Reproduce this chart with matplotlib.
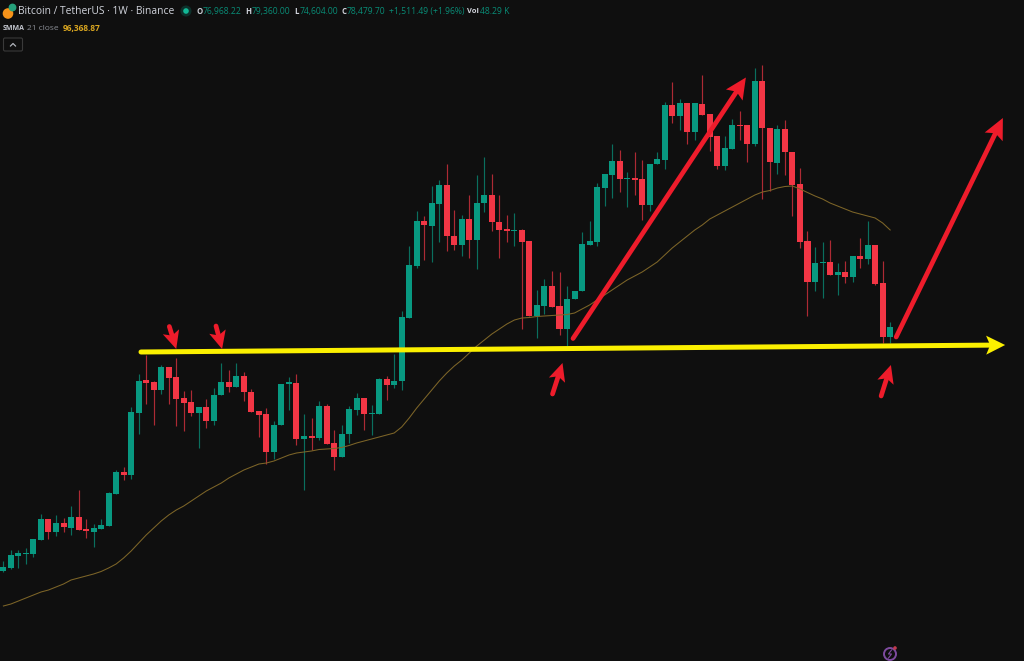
import numpy as np
import matplotlib
matplotlib.use("Agg")
import matplotlib.pyplot as plt
from matplotlib.patches import Circle, FancyBboxPatch, Polygon

# BTC/USDT weekly candles, prices in thousand USDT
opens = [30.1, 30.7, 33.0, 33.5, 33.4, 36.2, 40.5, 37.8, 39.7, 38.7,
         40.8, 38.4, 37.9, 38.5, 39.1, 45.4, 49.7, 49.2, 61.6, 68.1,
         67.7, 66.1, 70.7, 68.7, 64.5, 63.7, 61.6, 62.7, 59.9, 65.1,
         67.7, 66.7, 69.0, 65.7, 61.9, 61.3, 53.7, 59.1, 67.4, 67.5,
         56.3, 56.9, 56.5, 63.0, 55.5, 52.7, 57.3, 62.1, 64.5, 61.3,
         61.3, 68.3, 67.1, 67.9, 80.5, 91.0, 99.9, 99.0, 103.4, 107.1,
         96.9, 95.2, 100.4, 96.1, 103.5, 105.1, 99.7, 98.3, 97.9, 98.2,
         95.9, 80.9, 83.0, 87.0, 83.0, 78.4, 84.3, 85.9, 95.2, 95.8,
         106.5, 109.2, 112.0, 108.3, 108.5, 108.3, 103.1, 111.3, 112.2, 123.1,
         121.0, 123.5, 117.7, 123.4, 121.4, 117.0, 111.0, 114.3, 119.1, 119.1,
         115.4, 127.9, 118.6, 111.5, 118.3, 113.8, 107.4, 95.9, 87.7, 91.5,
         91.7, 89.1, 89.7, 88.8, 93.0, 92.3, 95.1, 87.6, 76.7]
highs = [32.1, 34.2, 34.2, 34.7, 36.4, 41.5, 40.5, 41.2, 40.7, 43.0,
         46.3, 40.4, 39.5, 40.5, 45.9, 50.3, 50.7, 62.7, 69.3, 73.2,
         67.9, 71.1, 70.7, 72.5, 65.9, 66.2, 62.7, 64.4, 66.5, 71.5,
         70.2, 71.5, 69.7, 66.3, 61.9, 62.5, 59.9, 67.3, 68.7, 69.4,
         61.4, 60.5, 63.9, 63.3, 58.1, 59.1, 63.0, 65.5, 64.5, 63.2,
         68.5, 68.9, 73.4, 81.9, 94.9, 101.9, 101.0, 106.9, 108.2, 111.4,
         102.1, 101.1, 105.2, 109.2, 112.7, 109.4, 105.2, 101.1, 101.5, 98.3,
         95.9, 86.2, 88.4, 89.9, 89.7, 87.0, 86.0, 97.7, 99.9, 107.5,
         109.4, 115.4, 114.1, 109.7, 113.7, 112.1, 111.4, 113.7, 123.7, 127.7,
         124.3, 123.5, 123.5, 129.1, 121.4, 117.0, 116.9, 120.3, 121.9, 119.1,
         130.5, 131.1, 118.6, 119.2, 120.2, 113.8, 110.5, 97.9, 94.7, 95.7,
         96.2, 91.5, 91.9, 93.0, 96.5, 100.0, 95.1, 92.0, 79.7]
lows = [29.9, 30.4, 30.7, 31.5, 32.9, 36.2, 36.5, 37.0, 37.9, 37.2,
        38.2, 36.7, 34.9, 38.5, 39.0, 45.4, 48.1, 48.4, 57.4, 63.3,
        59.1, 65.3, 63.3, 59.0, 57.9, 61.0, 54.5, 58.6, 59.2, 65.1,
        65.7, 66.7, 63.9, 61.7, 56.7, 51.4, 52.3, 59.1, 62.1, 55.1,
        46.2, 54.1, 56.1, 55.3, 50.1, 52.7, 55.5, 61.1, 58.1, 57.2,
        61.3, 64.1, 66.5, 66.2, 80.5, 90.5, 92.1, 91.7, 95.7, 93.9,
        94.1, 92.9, 92.5, 90.3, 101.7, 98.0, 92.5, 95.7, 95.0, 78.4,
        80.9, 76.5, 81.4, 82.8, 77.2, 75.0, 84.3, 85.9, 95.2, 95.0,
        103.0, 104.5, 105.7, 102.7, 105.2, 100.2, 101.9, 111.3, 110.4, 119.5,
        118.2, 115.4, 116.1, 121.2, 113.9, 110.3, 110.2, 114.3, 116.2, 111.7,
        115.0, 104.3, 105.9, 109.4, 109.2, 101.0, 94.5, 80.9, 85.9, 84.5,
        89.1, 85.2, 87.5, 87.7, 90.5, 91.4, 87.1, 75.5, 75.5]
closes = [30.9, 33.2, 33.6, 33.7, 36.4, 40.5, 37.9, 39.7, 38.8, 40.9,
          38.2, 38.0, 38.7, 39.3, 45.7, 49.8, 49.1, 61.7, 68.1, 67.5,
          66.1, 70.7, 68.5, 64.3, 63.6, 61.5, 62.7, 59.9, 65.2, 67.7,
          66.7, 69.0, 65.7, 61.7, 61.2, 53.7, 59.1, 67.3, 67.7, 56.3,
          56.9, 56.5, 63.0, 55.3, 52.7, 57.4, 62.3, 64.5, 61.3, 61.5,
          68.3, 67.1, 68.0, 80.7, 91.1, 99.9, 99.1, 103.5, 107.1, 96.9,
          95.2, 100.4, 96.1, 103.5, 105.1, 99.7, 98.2, 97.9, 98.2, 95.8,
          80.9, 83.1, 87.0, 82.8, 78.4, 84.4, 86.0, 95.4, 95.9, 106.7,
          109.4, 112.0, 108.3, 108.5, 108.2, 103.1, 111.4, 112.3, 123.2, 121.0,
          123.5, 117.7, 123.5, 121.2, 116.7, 111.0, 114.5, 119.1, 118.9, 115.4,
          127.9, 118.5, 111.7, 118.3, 113.7, 107.2, 95.8, 87.7, 91.5, 91.7,
          89.1, 89.8, 88.8, 93.0, 92.3, 95.2, 87.4, 76.7, 78.7]
smma = [23.0, 23.4, 24.0, 24.6, 25.2, 25.8, 26.2, 26.8, 27.4, 28.2,
        28.6, 29.0, 29.4, 29.9, 30.6, 31.4, 32.6, 34.0, 35.6, 37.2,
        38.6, 40.0, 41.2, 42.2, 43.0, 44.0, 45.0, 46.0, 46.8, 47.6,
        48.6, 49.4, 50.2, 50.8, 51.4, 51.6, 52.0, 52.6, 53.2, 53.6,
        53.8, 54.0, 54.3, 54.4, 54.5, 54.7, 55.1, 55.6, 56.0, 56.4,
        56.8, 57.2, 57.6, 58.8, 60.6, 62.6, 64.4, 66.2, 68.0, 69.6,
        71.0, 72.2, 73.6, 75.0, 76.2, 77.4, 78.4, 79.4, 80.2, 80.6,
        80.7, 80.9, 81.0, 81.1, 81.2, 81.3, 81.6, 82.4, 83.2, 84.2,
        85.2, 86.2, 87.2, 88.2, 89.0, 89.8, 90.8, 91.8, 93.2, 94.6,
        95.8, 97.0, 98.2, 99.2, 100.4, 101.2, 102.0, 102.8, 103.6, 104.4,
        105.2, 105.8, 106.1, 106.6, 106.9, 107.0, 106.4, 105.7, 105.0, 104.4,
        103.6, 103.0, 102.4, 101.8, 101.4, 101.0, 100.6, 99.6, 98.2]
assert len(opens) == len(highs) == len(lows) == len(closes) == len(smma) == 119

# hand drawn marks on the chart: (bar, price) -> (bar, price)
support_line = ((18.31, 73.8), (133.3, 75.2))
big_arrows = [((75.8, 76.5), (98.8, 128.7)),
              ((118.8, 76.8), (133.0, 120.6))]
small_arrows = [((22.08, 78.9), (23.0, 74.4)),
                ((28.29, 79.0), (29.1, 74.4)),
                ((73.07, 65.4), (74.4, 71.6)),
                ((116.8, 65.0), (118.1, 71.2))]

BG = '#0f0f0f'
GREEN = '#089981'
RED = '#f23645'
ARROW_RED = '#ee1c2b'
YELLOW = '#fbf000'
SMMA_COL = '#7d6528'

fig = plt.figure(figsize=(10.24, 6.61), dpi=100, facecolor=BG)
ax = fig.add_axes([0, 0, 1, 1], facecolor=BG)
ax.set_xlim(-0.452, 135.81)
ax.set_ylim(12.0, 144.2)
ax.axis('off')

idx = np.arange(len(opens))
o = np.array(opens)
c = np.array(closes)
cols = [GREEN if cl >= op else RED for op, cl in zip(opens, closes)]

ax.vlines(idx, lows, highs, colors=cols, linewidth=0.85, alpha=0.7, zorder=2)
ax.bar(idx, np.abs(c - o), bottom=np.minimum(o, c), width=0.8, color=cols,
       linewidth=0, zorder=3)
ax.plot(idx, smma, color=SMMA_COL, linewidth=0.75, zorder=4)

# legend row, icons and drawn arrows live in screen pixels
ui = fig.add_axes([0, 0, 1, 1], facecolor='none')
ui.set_xlim(0, 1024)
ui.set_ylim(661, 0)
ui.axis('off')


def to_px(pt):
    return ui.transData.inverted().transform(ax.transData.transform(pt))


def draw_arrow(start, end, color, lw, head_len, head_w, notch):
    p0, p1 = to_px(start), to_px(end)
    d = (p1 - p0) / np.hypot(*(p1 - p0))
    n = np.array([-d[1], d[0]])
    back = p1 - d * head_len
    ui.plot([p0[0], back[0] + d[0] * notch], [p0[1], back[1] + d[1] * notch],
            color=color, linewidth=lw, solid_capstyle='round', zorder=5)
    ui.add_patch(Polygon([p1, back + n * head_w / 2, back + d * notch, back - n * head_w / 2],
                         closed=True, facecolor=color, edgecolor='none', zorder=6))


draw_arrow(support_line[0], support_line[1], YELLOW, 3.6, 19, 19, 4)
for s, e in big_arrows:
    draw_arrow(s, e, ARROW_RED, 3.4, 21, 20, 4)
for s, e in small_arrows:
    draw_arrow(s, e, ARROW_RED, 3.4, 18, 17, 4)

FONT = 'Open Sans'


def label(x, y, s, color, size=6.2, weight='normal', alpha=1.0):
    ui.text(x, y, s, color=color, fontsize=size, fontweight=weight, alpha=alpha,
            family=FONT, va='center', ha='left')


label(18, 11.5, 'Bitcoin / TetherUS · 1W · Binance', '#d1d4dc', size=7.4)
label(196.5, 11.5, 'O', '#d1d4dc', size=5.6, weight='bold')
label(203, 11.5, '76,968.22', GREEN, alpha=0.9)
label(245, 11.5, 'H', '#d1d4dc', size=5.6, weight='bold')
label(252, 11.5, '79,360.00', GREEN, alpha=0.9)
label(294, 11.5, 'L', '#d1d4dc', size=5.6, weight='bold')
label(300, 11.5, '74,604.00', GREEN, alpha=0.9)
label(341, 11.5, 'C', '#d1d4dc', size=5.6, weight='bold')
label(347, 11.5, '78,479.70', GREEN, alpha=0.9)
label(389, 11.5, '+1,511.49 (+1.96%)', GREEN, alpha=0.9)
label(467, 11.5, 'Vol', '#d1d4dc', size=5.4, weight='bold')
label(480, 11.5, '48.29 K', GREEN, alpha=0.9)
label(3, 28, 'SMMA', '#c4c7cf', size=5, weight='bold')
label(27, 28, '21 close', '#8a8d94', size=6)
label(63, 28, '96,368.87', '#d8a520', size=6, weight='bold')

# coin icons in front of the title
ui.add_patch(Circle((8, 13.5), 4.6, color='#f7931a', zorder=3))
ui.add_patch(Circle((12.5, 7.5), 3.2, color='#26a17b', zorder=4))
# market status dot
ui.add_patch(Circle((186, 11), 5.5, color=GREEN, alpha=0.25, linewidth=0))
ui.add_patch(Circle((186, 11), 2.8, color='#12b896', linewidth=0))

# collapse button
ui.add_patch(FancyBboxPatch((3.5, 38), 19, 13, boxstyle='round,pad=0,rounding_size=1.5',
                            facecolor='none', edgecolor='#3a3a3a', linewidth=0.8))
ui.plot([10.5, 13, 15.5], [46, 43.5, 46], color='#b0b3ba', linewidth=0.9)

# purple badge at the bottom
ui.add_patch(Circle((890, 654), 6, facecolor='none', edgecolor='#7d4a9e', linewidth=1.4))
ui.plot([891.5, 888.5, 891.5, 888.5], [650, 654, 654, 658], color='#7d4a9e', linewidth=0.8)
ui.add_patch(Circle((895, 648), 1.8, color='#c23a4c', linewidth=0))

fig.savefig('out.png', dpi=100, facecolor=BG)
